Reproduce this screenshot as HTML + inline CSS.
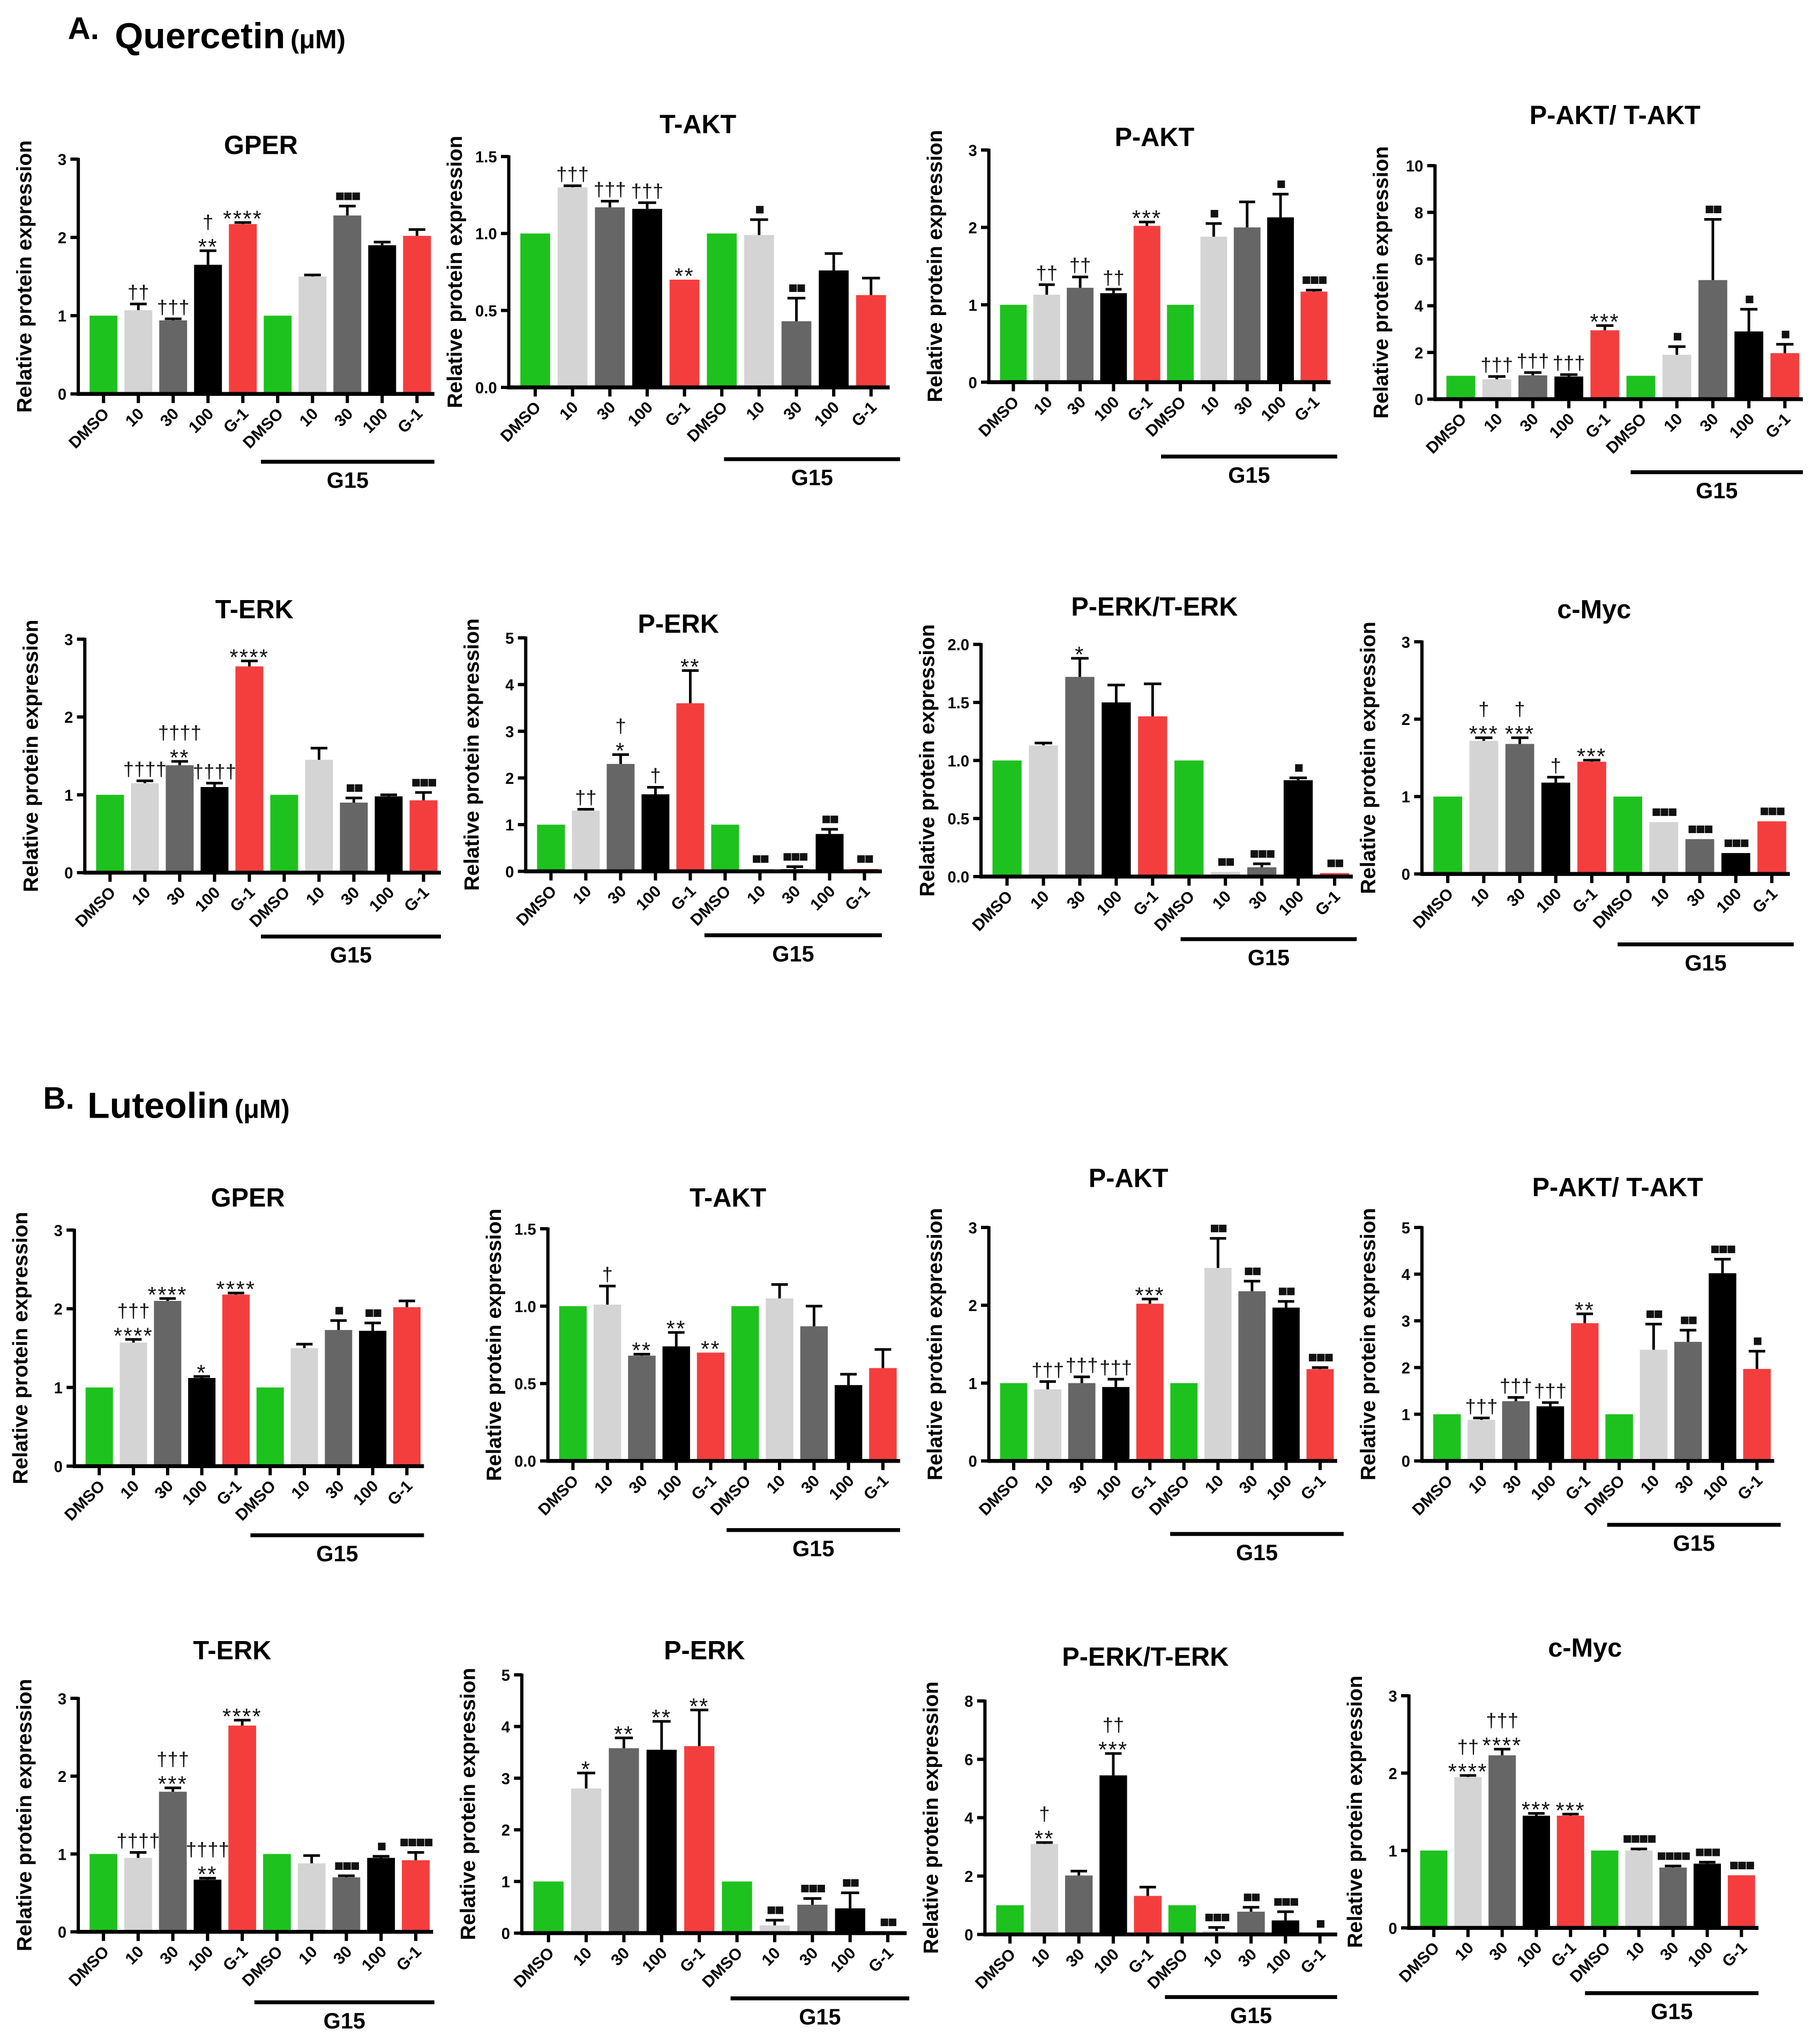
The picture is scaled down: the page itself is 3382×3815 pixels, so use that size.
<!DOCTYPE html>
<html><head><meta charset="utf-8">
<style>
html,body{margin:0;padding:0;background:#fff;}
svg{display:block;font-family:"Liberation Sans",Arial,sans-serif;}
</style></head>
<body>
<svg id="fig" width="3382" height="3815" viewBox="0 0 1389 1567" preserveAspectRatio="none" xmlns="http://www.w3.org/2000/svg">
<text x="52" y="30" font-size="24" font-weight="bold">A.</text>
<text x="88" y="37" font-size="28" font-weight="bold">Quercetin<tspan font-size="20" dx="4">(μM)</tspan></text>
<text x="33" y="850" font-size="24" font-weight="bold">B.</text>
<text x="67" y="857" font-size="28" font-weight="bold">Luteolin<tspan font-size="20" dx="4">(μM)</tspan></text>
</svg>
<script>
const categories = ["DMSO","10","30","100","G-1","DMSO","10","30","100","G-1"];
const barColors = ["#1ec21e","#d4d4d4","#666666","#000000","#f43e3e"];

// Quercetin
const qGperVals = [1,1.07,0.94,1.65,2.17,1,1.5,2.28,1.9,2.02];
const qGperErr  = [0,0.08,0.02,0.18,0.02,0,0.02,0.12,0.04,0.08];
const qGperSig  = ["","††","†††","**|†","****","","","■■■","",""];
const qTaktVals = [1,1.3,1.17,1.16,0.7,1,0.99,0.43,0.76,0.6];
const qTaktErr  = [0,0.01,0.04,0.04,0,0,0.1,0.15,0.11,0.11];
const qTaktSig  = ["","†††","†††","†††","**","","■","■■","",""];
const qPaktVals = [1,1.13,1.22,1.15,2.02,1,1.88,2.0,2.13,1.17];
const qPaktErr  = [0,0.13,0.14,0.05,0.05,0,0.17,0.33,0.3,0.02];
const qPaktSig  = ["","††","††","††","***","","■","","■","■■■"];
const qRatioVals = [1,0.85,1.02,0.97,2.95,1,1.9,5.1,2.9,1.97];
const qRatioErr  = [0,0.12,0.12,0.08,0.2,0,0.35,2.6,0.95,0.38];
const qRatioSig  = ["","†††","†††","†††","***","","■","■■","■","■"];
const qTerkVals = [1,1.15,1.38,1.1,2.65,1,1.45,0.9,0.98,0.93];
const qTerkErr  = [0,0.03,0.05,0.05,0.07,0,0.15,0.06,0.02,0.1];
const qTerkSig  = ["","††††","**|††††","††††","****","","","■■","","■■■"];
const qPerkVals = [1,1.3,2.3,1.65,3.6,1,0.05,0.05,0.8,0.05];
const qPerkErr  = [0,0.03,0.2,0.15,0.7,0,0,0.05,0.1,0];
const qPerkSig  = ["","††","*|†","†","**","","■■","■■■","■■","■■"];
const qErkRatioVals = [1,1.13,1.72,1.5,1.38,1,0.04,0.08,0.83,0.03];
const qErkRatioErr  = [0,0.02,0.16,0.15,0.28,0,0,0.03,0.02,0];
const qErkRatioSig  = ["","","*","","","","■■","■■■","■","■■"];
const qMycVals = [1,1.72,1.68,1.18,1.45,1,0.67,0.45,0.27,0.68];
const qMycErr  = [0,0.04,0.08,0.07,0.02,0,0,0,0,0];
const qMycSig  = ["","***|†","***|†","†","***","","■■■","■■■","■■■","■■■"];

// Luteolin
const lGperVals = [1,1.57,2.1,1.12,2.18,1,1.5,1.73,1.72,2.02];
const lGperErr  = [0,0.04,0.03,0.02,0.02,0,0.05,0.12,0.1,0.08];
const lGperSig  = ["","****|†††","****","*","****","","","■","■■",""];
const lTaktVals = [1,1.01,0.68,0.74,0.7,1,1.05,0.87,0.49,0.6];
const lTaktErr  = [0,0.12,0.01,0.09,0,0,0.09,0.13,0.07,0.12];
const lTaktSig  = ["","†","**","**","**","","","","",""];
const lPaktVals = [1,0.92,1.0,0.95,2.02,1,2.48,2.18,1.97,1.18];
const lPaktErr  = [0,0.1,0.08,0.1,0.06,0,0.38,0.13,0.08,0.02];
const lPaktSig  = ["","†††","†††","†††","***","","■■","■■","■■","■■■"];
const lRatioVals = [1,0.88,1.28,1.17,2.95,1,2.38,2.55,4.02,1.97];
const lRatioErr  = [0,0.04,0.08,0.08,0.2,0,0.55,0.25,0.3,0.38];
const lRatioSig  = ["","†††","†††","†††","**","","■■","■■","■■■","■"];
const lTerkVals = [1,0.95,1.8,0.67,2.65,1,0.88,0.7,0.95,0.92];
const lTerkErr  = [0,0.07,0.05,0.02,0.07,0,0.1,0.02,0.02,0.1];
const lTerkSig  = ["","††††","***|†††","**|††††","****","","","■■■","■","■■■■"];
const lPerkVals = [1,2.8,3.58,3.55,3.62,1,0.15,0.55,0.48,0.02];
const lPerkErr  = [0,0.3,0.2,0.55,0.7,0,0.1,0.12,0.3,0];
const lPerkSig  = ["","*","**","**","**","","■■","■■■","■■","■■"];
const lErkRatioVals = [1,3.1,2.02,5.45,1.32,1,0.12,0.78,0.48,0.02];
const lErkRatioErr  = [0,0.05,0.15,0.75,0.3,0,0.12,0.15,0.3,0];
const lErkRatioSig  = ["","**|†","","***|††","","","■■■","■■","■■■","■"];
const lMycVals = [1,1.95,2.23,1.45,1.45,1,1.0,0.78,0.83,0.68];
const lMycErr  = [0,0.02,0.08,0.03,0.02,0,0.02,0.02,0.02,0];
const lMycSig  = ["","****|††","****|†††","***","***","","■■■■","■■■■","■■■","■■■"];

const qTicks3 = ["0","1","2","3"];
const qTicks15 = ["0.0","0.5","1.0","1.5"];
const qTicks10 = ["0","2","4","6","8","10"];
const qTicks5 = ["0","1","2","3","4","5"];
const qTicks2 = ["0.0","0.5","1.0","1.5","2.0"];
const qTicks8 = ["0","2","4","6","8"];

const NS = "http://www.w3.org/2000/svg";
const svg = document.getElementById("fig");
function mk(tag, attrs, parent){
  const e = document.createElementNS(NS, tag);
  for (const k in attrs) e.setAttribute(k, attrs[k]);
  (parent||svg).appendChild(e);
  return e;
}

function panel(id, title, L, vals, errs, sigs, ticks){
  const g = mk("g", {});
  
  
  const ymax = parseFloat(ticks[ticks.length-1]);
  const yS = v => L.y0 - (v/ymax)*(L.y0 - L.yt);
  const slot = (L.xe - L.ax - 6) / vals.length;
  const xC = i => L.ax + 6 + slot*(i+0.5);
  const bw = slot*0.8;
  const t = mk("text", {x:L.tx, y:L.ty, "font-size":20, "font-weight":"bold", "text-anchor":"middle"}, g);
  t.textContent = title;
  
  
  const ym = (L.y0 + L.yt)/2;
  const yl = mk("text", {x:L.ax-36, y:ym, "font-size":16, "font-weight":"bold", "text-anchor":"middle", transform:`rotate(-90 ${L.ax-36} ${ym})`}, g);
  yl.textContent = "Relative protein expression";
  
  
  vals.forEach((v,i)=>{
    const x = xC(i), y = yS(v);
    const r = mk("rect", {x:x-bw/2, y:y, width:bw, height:L.y0-y, fill:barColors[i%5]}, g);
    
    
    let top = y;
    if (errs[i] > 0){
      const ye = yS(v+errs[i]);
      mk("line", {x1:x, x2:x, y1:y, y2:ye, stroke:"#000", "stroke-width":2}, g);
      mk("line", {x1:x-bw*0.3, x2:x+bw*0.3, y1:ye, y2:ye, stroke:"#000", "stroke-width":2}, g);
      top = ye;
    }
    if (sigs[i]){
      const parts = sigs[i].split("|");
      parts.forEach((s,k)=>{
        const sq = s.indexOf("■")>=0;
        const ast = s[0]==="*";
        const st = mk("text", {x:x, y:top-4-k*13 + (ast?7:0), "font-size":sq?12:(ast?17:15), "text-anchor":"middle", fill:"#111", "letter-spacing":sq?"-1":(ast?"1":"0")}, g);
        st.textContent = s;
        
        
      });
    }
    mk("line", {x1:x, x2:x, y1:L.y0, y2:L.y0+7, stroke:"#000", "stroke-width":2.5}, g);
    const lx = x+5, ly = L.y0+16;
    const ct = mk("text", {x:lx, y:ly, "font-size":12.5, "font-weight":"bold", "text-anchor":"end", transform:`rotate(-45 ${lx} ${ly})`}, g);
    ct.textContent = categories[i];
    
    
  });
  mk("line", {x1:L.ax, x2:L.ax, y1:L.yt-1, y2:L.y0+1.5, stroke:"#000", "stroke-width":2.5}, g);
  mk("line", {x1:L.ax, x2:L.xe, y1:L.y0, y2:L.y0, stroke:"#000", "stroke-width":3}, g);
  ticks.forEach(tk=>{
    const yy = yS(parseFloat(tk));
    mk("line", {x1:L.ax-6, x2:L.ax, y1:yy, y2:yy, stroke:"#000", "stroke-width":2.5}, g);
    const tt = mk("text", {x:L.ax-9, y:yy+4.5, "font-size":12, "font-weight":"bold", "text-anchor":"end"}, g);
    tt.textContent = tk;
    
    
  });
  const gl = mk("line", {x1:L.g1, x2:L.g2, y1:L.gy, y2:L.gy, stroke:"#000", "stroke-width":3}, g);
  
  
  const gt = mk("text", {x:(L.g1+L.g2)/2, y:L.gy+20, "font-size":17, "font-weight":"bold", "text-anchor":"middle"}, g);
  gt.textContent = "G15";
  
  
}

panel("q-gper","GPER",{ax:60,xe:333,yt:122,y0:302,tx:200,ty:118,g1:200,g2:333,gy:354},qGperVals,qGperErr,qGperSig,qTicks3);
panel("q-takt","T-AKT",{ax:390,xe:682,yt:120,y0:297,tx:535,ty:102,g1:555,g2:690,gy:352},qTaktVals,qTaktErr,qTaktSig,qTicks15);
panel("q-pakt","P-AKT",{ax:758,xe:1020,yt:115,y0:293,tx:885,ty:112,g1:890,g2:1025,gy:350},qPaktVals,qPaktErr,qPaktSig,qTicks3);
panel("q-pakt-takt","P-AKT/ T-AKT",{ax:1100,xe:1382,yt:127,y0:306,tx:1238,ty:95,g1:1250,g2:1382,gy:362},qRatioVals,qRatioErr,qRatioSig,qTicks10);
panel("q-terk","T-ERK",{ax:65,xe:338,yt:490,y0:669,tx:195,ty:474,g1:200,g2:338,gy:718},qTerkVals,qTerkErr,qTerkSig,qTicks3);
panel("q-perk","P-ERK",{ax:403,xe:676,yt:489,y0:668,tx:520,ty:485,g1:540,g2:676,gy:717},qPerkVals,qPerkErr,qPerkSig,qTicks5);
panel("q-perk-terk","P-ERK/T-ERK",{ax:752,xe:1037,yt:494,y0:672,tx:885,ty:472,g1:905,g2:1040,gy:720},qErkRatioVals,qErkRatioErr,qErkRatioSig,qTicks2);
panel("q-cmyc","c-Myc",{ax:1090,xe:1372,yt:492,y0:670,tx:1222,ty:474,g1:1240,g2:1375,gy:724},qMycVals,qMycErr,qMycSig,qTicks3);

panel("l-gper","GPER",{ax:57,xe:325,yt:943,y0:1124,tx:190,ty:925,g1:192,g2:325,gy:1177},lGperVals,lGperErr,lGperSig,qTicks3);
panel("l-takt","T-AKT",{ax:420,xe:690,yt:942,y0:1120,tx:558,ty:925,g1:557,g2:690,gy:1173},lTaktVals,lTaktErr,lTaktSig,qTicks15);
panel("l-pakt","P-AKT",{ax:758,xe:1025,yt:941,y0:1120,tx:865,ty:910,g1:897,g2:1030,gy:1176},lPaktVals,lPaktErr,lPaktSig,qTicks3);
panel("l-pakt-takt","P-AKT/ T-AKT",{ax:1090,xe:1360,yt:941,y0:1120,tx:1240,ty:917,g1:1232,g2:1365,gy:1169},lRatioVals,lRatioErr,lRatioSig,qTicks5);
panel("l-terk","T-ERK",{ax:60,xe:332,yt:1302,y0:1481,tx:178,ty:1272,g1:195,g2:333,gy:1535},lTerkVals,lTerkErr,lTerkSig,qTicks3);
panel("l-perk","P-ERK",{ax:400,xe:695,yt:1284,y0:1482,tx:540,ty:1272,g1:560,g2:697,gy:1532},lPerkVals,lPerkErr,lPerkSig,qTicks5);
panel("l-perk-terk","P-ERK/T-ERK",{ax:755,xe:1025,yt:1304,y0:1483,tx:878,ty:1277,g1:893,g2:1025,gy:1531},lErkRatioVals,lErkRatioErr,lErkRatioSig,qTicks8);
panel("l-cmyc","c-Myc",{ax:1080,xe:1348,yt:1300,y0:1478,tx:1215,ty:1270,g1:1215,g2:1348,gy:1528},lMycVals,lMycErr,lMycSig,qTicks3);
</script>
</body></html>
